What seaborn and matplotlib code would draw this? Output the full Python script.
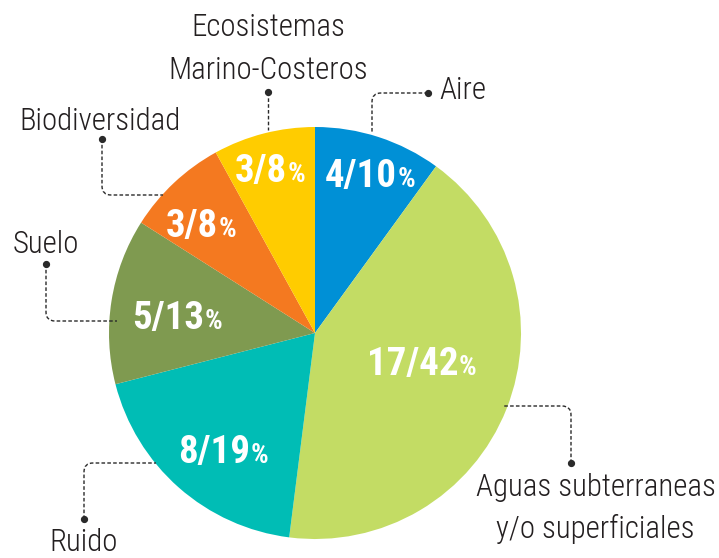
import numpy as np
import matplotlib
matplotlib.use("Agg")
import matplotlib.pyplot as plt
from matplotlib import font_manager as fm
from matplotlib.path import Path
from matplotlib.patches import PathPatch
import seaborn as sns

# data
categories = ["Aire", "Aguas subterraneas\ny/o superficiales", "Ruido", "Suelo",
              "Biodiversidad", "Ecosistemas\nMarino-Costeros"]
counts = [4, 17, 8, 5, 3, 3]
percents = [10, 42, 19, 13, 8, 8]
colors = ["#0090d6", "#c3dc64", "#00bdb5", "#7f9a50", "#f47920", "#ffcc00"]

sns.set_theme(style="white")
installed = {f.name for f in fm.fontManager.ttflist}
cond = next((f for f in ["Roboto Condensed", "Archivo Narrow", "Barlow Condensed"]
             if f in installed), "DejaVu Sans")
plt.rcParams['font.family'] = [cond, 'DejaVu Sans']

W, H = 719, 558
fig = plt.figure(figsize=(W / 100, H / 100), dpi=100)
ax = fig.add_axes([0, 0, 1, 1])


def Y(py):
    # pixel row -> data y
    return H - py


# slices sized by the rounded percentages, as in the original
pal = sns.color_palette(colors)
ax.pie(percents, colors=pal, startangle=90, counterclock=False,
       center=(315, Y(333)), radius=206, wedgeprops=dict(linewidth=0))
ax.set_xlim(0, W)
ax.set_ylim(0, H)
ax.set_aspect('auto')
ax.axis('off')

# value labels inside slices: (split x, baseline y) in pixels
value_pos = [(397, 187), (458, 375), (250, 463), (204, 329), (218, 237), (287, 182)]
for (sx, by), n, p in zip(value_pos, counts, percents):
    ax.text(sx, Y(by), f"{n}/{p}", ha='right', va='baseline', color='white',
            fontsize=28, fontweight='bold')
    ax.text(sx + 1, Y(by), "%", ha='left', va='baseline', color='white',
            fontsize=20, fontweight='semibold')

# category labels: list of lines (x, baseline, ha)
txt_color = "#231f20"
label_pos = [
    [(439, 99, 'left')],
    [(596, 496, 'center'), (595, 538, 'center')],
    [(84, 551, 'center')],
    [(46, 253, 'center')],
    [(100, 130, 'center')],
    [(268, 36, 'center'), (268, 79, 'center')],
]
for cat, lines in zip(categories, label_pos):
    for line, (x, by, ha) in zip(cat.split("\n"), lines):
        ax.text(x, Y(by), line, ha=ha, va='baseline', color=txt_color,
                fontsize=22.2, fontweight='light')

# leader lines (pixel points, dot at the first point)
leaders = [
    [(428, 93), (372, 93), (372, 132)],
    [(571, 463), (571, 406), (504, 406)],
    [(84, 519), (84, 463), (156, 463)],
    [(46, 264), (46, 321), (117, 321)],
    [(102, 139), (102, 195), (163, 195)],
    [(268, 92), (268, 130)],
]


def leader_path(pts, r=9):
    pts = [np.array([x, Y(y)], dtype=float) for x, y in pts]
    verts = [pts[0]]
    codes = [Path.MOVETO]
    for i in range(1, len(pts) - 1):
        c = pts[i]
        u0 = (pts[i - 1] - c) / np.linalg.norm(pts[i - 1] - c)
        u1 = (pts[i + 1] - c) / np.linalg.norm(pts[i + 1] - c)
        verts += [c + r * u0, c, c + r * u1]
        codes += [Path.LINETO, Path.CURVE3, Path.CURVE3]
    verts.append(pts[-1])
    codes.append(Path.LINETO)
    return Path(verts, codes)


for pts in leaders:
    ax.add_patch(PathPatch(leader_path(pts), fill=False, edgecolor="#2a2a2a",
                           linewidth=1.0, linestyle=(0, (2.6, 1.6))))
    ax.plot(pts[0][0], Y(pts[0][1]), 'o', color="#2a2a2a", markersize=4.2)

fig.savefig("out.png", dpi=100)
